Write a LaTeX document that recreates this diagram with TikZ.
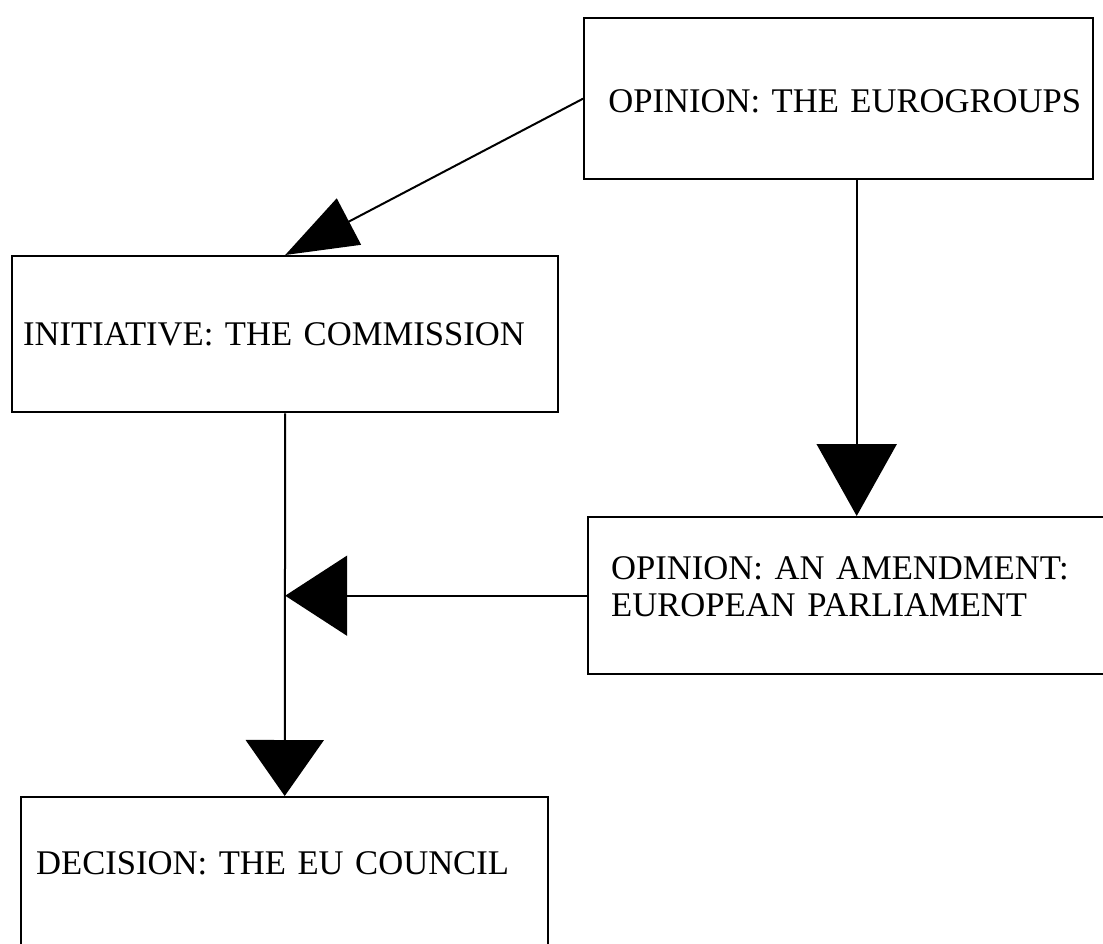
\documentclass[tikz,border=0pt]{standalone}
\usepackage{fontspec}
\setmainfont{Liberation Serif}
\usetikzlibrary{arrows.meta}

\begin{document}
\begin{tikzpicture}[x=0.5pt,y=-0.5pt]
\tikzset{
  stagebox/.style={draw,line width=1.2pt,rectangle,anchor=north west,inner ysep=0pt,font=\fontsize{17.3pt}{18.5pt}\selectfont},
  flow/.style={line width=1pt,-{Triangle[length=36pt,width=40pt]}}
}
\path[use as bounding box,clip] (0,0) rectangle (1103,943);
\node[stagebox,minimum height=80.5pt,inner xsep=6pt,text width=242.5pt,align=right,text height=14pt,text depth=0pt] (n_eurogroups) at (583,17) {OPINION: THE EUROGROUPS};
\node[stagebox,minimum height=78pt,inner xsep=5.5pt,text width=262pt,align=left] (n_commission) at (11,255) {INITIATIVE: THE COMMISSION};
\node[stagebox,minimum height=78.5pt,inner xsep=11.5pt,text width=241pt,align=left,text depth=27.5pt] (n_parliament) at (587,516) {OPINION: AN AMENDMENT:\\EUROPEAN PARLIAMENT};
\node[stagebox,minimum height=100pt,inner xsep=7.5pt,text width=248.5pt,align=left,text depth=34pt] (n_council) at (20,796) {DECISION: THE EU COUNCIL};
\coordinate (c_merge) at (n_commission.south |- n_parliament.west);
\draw[flow,-{Triangle[length=36pt,width=26pt]}] (n_eurogroups.west) -- (n_commission.north);
\draw[flow] ([xshift=9pt]n_eurogroups.south) -- ([xshift=9pt]n_eurogroups.south |- n_parliament.north);
\draw[flow,-{Triangle[length=28pt,width=39pt]}] (n_commission.south) -- (n_council.north);
\draw[flow,-{Triangle[length=31pt,width=40pt]}] (n_parliament.west) -- (c_merge);
\end{tikzpicture}
\end{document}
